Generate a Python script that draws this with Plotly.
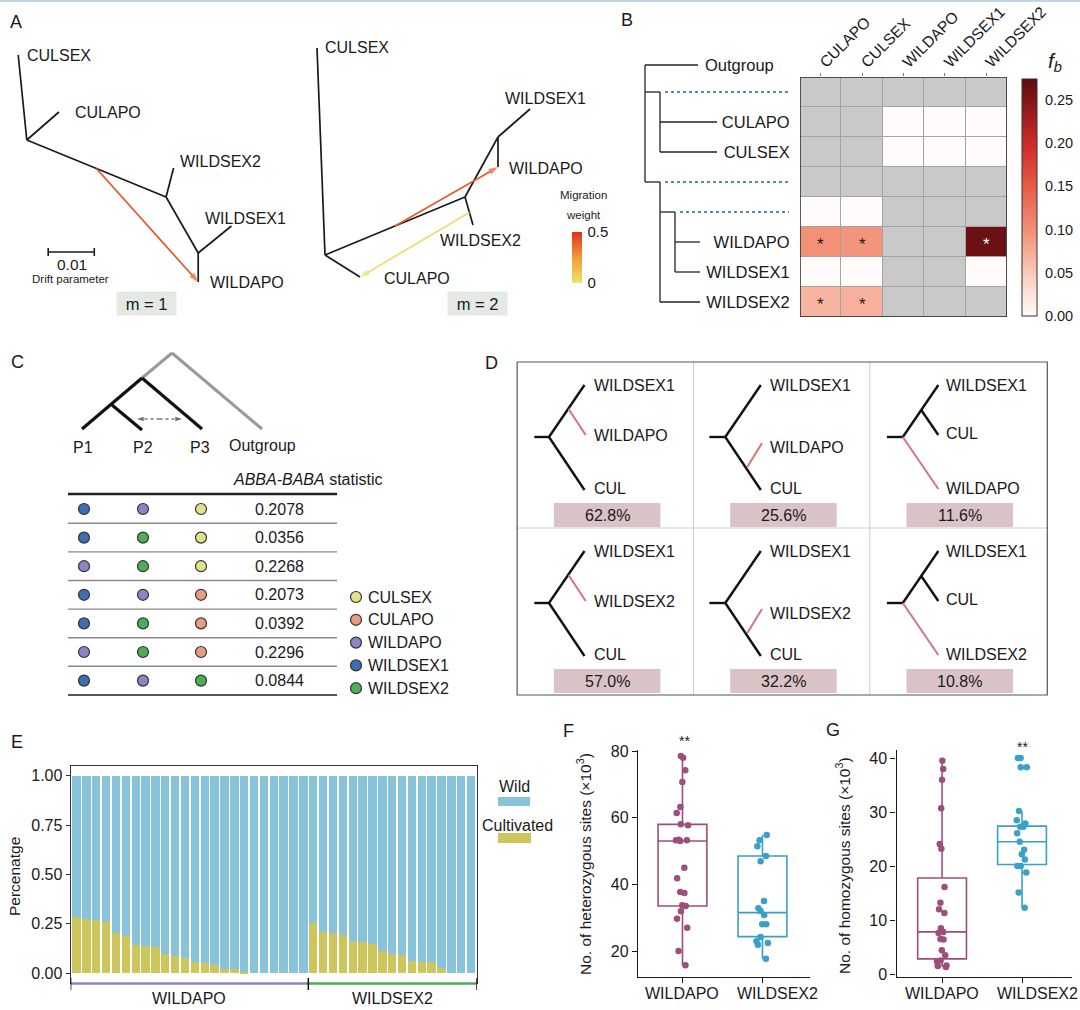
import plotly.graph_objects as go
from plotly.colors import sample_colorscale

W, H = 1080, 1010
FONT = "Liberation Sans, Arial, sans-serif"
INK = "#1a1a1a"

# ======================= DATA =======================
tm_edges = [("root", "CULSEX"), ("root", "CULAPO"), ("root", "n1"),
            ("n1", "WILDSEX2"), ("n1", "n2"), ("n2", "WILDSEX1"), ("n2", "WILDAPO")]
tm1_nodes = {"root": (25, 110), "CULSEX": (17, 25), "CULAPO": (55, 82),
             "n1": (155, 167), "WILDSEX2": (162, 138), "n2": (185, 223),
             "WILDSEX1": (216, 196), "WILDAPO": (185, 252)}
tm1_labels = {"CULSEX": (23, 25), "CULAPO": (68, 82), "WILDSEX2": (166, 131),
              "WILDSEX1": (189, 188), "WILDAPO": (194, 252)}
tm1_migrations = [("root", "n1", 0.5, "WILDAPO", 0.42)]
tm2_nodes = {"root": (25, 225), "CULSEX": (17, 18), "CULAPO": (60, 247),
             "n1": (165, 167), "WILDSEX2": (173, 195), "n2": (198, 107),
             "WILDSEX1": (230, 79), "WILDAPO": (198, 137)}
tm2_labels = {"CULSEX": (23, 17), "WILDSEX1": (203, 68), "WILDAPO": (207, 138),
              "WILDSEX2": (138, 210), "CULAPO": (82, 248)}
tm2_migrations = [("root", "n1", 0.5, "WILDAPO", 0.40),
                  ("n1", "WILDSEX2", 0.55, "CULAPO", 0.02)]
migration_max = 0.5
migration_colorscale = [[0, "#ece46c"], [0.5, "#f39a38"], [1, "#e2301f"]]

fb_cols = ["CULAPO", "CULSEX", "WILDAPO", "WILDSEX1", "WILDSEX2"]
fb_rows = ["", "CULAPO", "CULSEX", "", "", "WILDAPO", "WILDSEX1", "WILDSEX2"]
fb_values = [
    [None, None, None, None, None],
    [None, None, 0, 0, 0],
    [None, None, 0, 0, 0],
    [None, None, None, None, None],
    [0, 0, None, None, None],
    [0.098, 0.094, None, None, 0.264],
    [0, 0, None, None, 0],
    [0.068, 0.071, None, None, None],
]
fb_significant = [(5, 0), (5, 1), (5, 4), (7, 0), (7, 1)]
fb_ticks = [0, 0.05, 0.10, 0.15, 0.20, 0.25]
fb_max = 0.274
fb_colorscale = [[0, "#fffbfa"], [0.15, "#fbd3c6"], [0.35, "#f3937a"], [0.55, "#e65a45"],
                 [0.72, "#cf2c2a"], [0.88, "#8e1a1c"], [1, "#5c0d10"]]
dendro = {"x": 45, "row": -0.9, "children": [
    {"leaf": "Outgroup", "row": -0.9, "end": 98},
    {"x": 60, "row": 0, "children": [
        {"leaf": "CULAPO", "row": 1, "end": 117},
        {"leaf": "CULSEX", "row": 2, "end": 117}]},
    {"x": 60, "row": 3, "children": [
        {"x": 75, "row": 4, "children": [
            {"leaf": "WILDAPO", "row": 5, "end": 100},
            {"leaf": "WILDSEX1", "row": 6, "end": 100}]},
        {"leaf": "WILDSEX2", "row": 7, "end": 100}]}]}

abba_P1 = ["WILDSEX1", "WILDSEX1", "WILDAPO", "WILDSEX1", "WILDSEX1", "WILDAPO", "WILDSEX1"]
abba_P2 = ["WILDAPO", "WILDSEX2", "WILDSEX2", "WILDAPO", "WILDSEX2", "WILDSEX2", "WILDAPO"]
abba_P3 = ["CULSEX", "CULSEX", "CULSEX", "CULAPO", "CULAPO", "CULAPO", "WILDSEX2"]
abba_D = [0.2078, 0.0356, 0.2268, 0.2073, 0.0392, 0.2296, 0.0844]
pop_order = ["CULSEX", "CULAPO", "WILDAPO", "WILDSEX1", "WILDSEX2"]
pop_colors = {"CULSEX": "#e3e08c", "CULAPO": "#e99c82", "WILDAPO": "#8d84c6",
              "WILDSEX1": "#3f6db3", "WILDSEX2": "#4cae57"}

d_rows = ["WILDAPO", "WILDSEX2"]
d_percent = [[62.8, 25.6, 11.6], [57.0, 32.2, 10.8]]

e_group_names = ["WILDAPO", "WILDSEX2"]
e_group_sizes = [24, 17]
e_cultivated = [0.284, 0.272, 0.267, 0.260, 0.205, 0.188, 0.143, 0.138, 0.133, 0.096,
                0.087, 0.079, 0.059, 0.049, 0.042, 0.023, 0.020, 0.005, 0, 0, 0, 0, 0, 0,
                0.255, 0.210, 0.205, 0.193, 0.163, 0.159, 0.149, 0.112, 0.096, 0.091,
                0.062, 0.057, 0.054, 0.025, 0, 0, 0]
e_wild = [round(1 - c, 3) for c in e_cultivated]

box_groups = ["WILDAPO", "WILDSEX2"]
box_colors = {"WILDAPO": "#9d4f7c", "WILDSEX2": "#3aa0c8"}
f_points = {
    "WILDAPO": [78.5, 78.0, 74.2, 70.7, 63.2, 61.4, 58.0, 57.7, 53.4, 53.2, 53.0, 53.2,
                45.0, 41.8, 37.7, 37.4, 33.7, 33.5, 31.9, 29.7, 27.0, 20.0, 15.7],
    "WILDSEX2": [54.8, 53.2, 51.4, 48.5, 46.9, 35.0, 32.8, 32.0, 30.8, 28.0, 28.0, 24.2,
                 22.9, 22.4, 21.9, 17.7]}
f_q1 = [33.5, 24.3]; f_median = [53.0, 31.5]; f_q3 = [58.0, 48.5]
f_low = [15.7, 17.7]; f_high = [78.5, 54.8]
g_points = {
    "WILDAPO": [39.5, 38.0, 36.0, 30.7, 24.1, 23.2, 16.1, 13.2, 12.0, 11.3, 8.5, 7.8,
                7.6, 6.5, 6.4, 4.4, 3.5, 2.5, 2.3, 1.6, 1.5, 1.3],
    "WILDSEX2": [40.0, 40.0, 38.3, 38.3, 30.2, 28.5, 27.9, 27.3, 27.3, 26.1, 24.5, 23.0,
                 22.2, 21.2, 20.0, 20.0, 18.8, 15.1, 12.3]}
g_q1 = [2.8, 20.3]; g_median = [7.8, 24.5]; g_q3 = [17.8, 27.4]
g_low = [1.3, 12.3]; g_high = [39.5, 30.2]

# ======================= FIGURE =======================
fig = go.Figure()
annotations, shapes, axes = [], [], {}


def ax_keys(n):
    s = "" if n == 1 else str(n)
    return "xaxis" + s, "yaxis" + s, "x" + s, "y" + s


def set_axes(n, box, xr, yr, xopts=None, yopts=None):
    x0, y0, x1, y1 = box
    xk, yk, xa, ya = ax_keys(n)
    xd = dict(domain=[x0 / W, x1 / W], anchor=ya, range=xr, fixedrange=True)
    yd = dict(domain=[1 - y1 / H, 1 - y0 / H], anchor=xa, range=yr, fixedrange=True)
    xd.update(xopts or dict(visible=False))
    yd.update(yopts or dict(visible=False))
    axes[xk] = xd
    axes[yk] = yd


def lines(n, segs, color=INK, width=1.6, dash=None):
    xs, ys = [], []
    for (x0, y0), (x1, y1) in segs:
        xs += [x0, x1, None]
        ys += [y0, y1, None]
    _, _, xa, ya = ax_keys(n)
    fig.add_trace(go.Scatter(x=xs, y=ys, mode="lines", xaxis=xa, yaxis=ya,
                             line=dict(color=color, width=width, dash=dash),
                             hoverinfo="skip", showlegend=False))


def arrow(n, src, dst, color, width=1.6, size=10, dash=None):
    _, _, xa, ya = ax_keys(n)
    fig.add_trace(go.Scatter(x=[src[0], dst[0]], y=[src[1], dst[1]], mode="lines+markers",
                             xaxis=xa, yaxis=ya, line=dict(color=color, width=width, dash=dash),
                             marker=dict(symbol=["circle", "arrow"], size=[0, size],
                                         angleref="previous", color=color, line=dict(width=0)),
                             hoverinfo="skip", showlegend=False))


def text(n, x, y, s, size=15, xanchor="left", yanchor="middle", color=INK, **kw):
    if n == 0:
        xref, yref, x, y = "paper", "paper", x / W, 1 - y / H
    else:
        _, _, xref, yref = ax_keys(n)
    annotations.append(dict(x=x, y=y, xref=xref, yref=yref, text=s, showarrow=False,
                            xanchor=xanchor, yanchor=yanchor,
                            font=dict(family=FONT, size=size, color=color), **kw))


def rect_px(x0, y0, x1, y1, **kw):
    shapes.append(dict(type="rect", xref="paper", yref="paper", x0=x0 / W, x1=x1 / W,
                       y0=1 - y1 / H, y1=1 - y0 / H, **kw))


set_axes(1, (0, 30, 300, 320), [0, 280], [290, 0])
set_axes(2, (300, 30, 620, 320), [0, 320], [290, 0])
for n, nodes, labels, migs, mtxt, mpos in [
        (1, tm1_nodes, tm1_labels, tm1_migrations, "m = 1", (137, 273)),
        (2, tm2_nodes, tm2_labels, tm2_migrations, "m = 2", (177, 273))]:
    lines(n, [(nodes[a], nodes[b]) for a, b in tm_edges], INK, 1.7)
    for name, (x, y) in labels.items():
        text(n, x, y, name, 16)
    for a, b, t, tgt, w in migs:
        (p0x, p0y), (p1x, p1y) = nodes[a], nodes[b]
        src = (p0x + t * (p1x - p0x), p0y + t * (p1y - p0y))
        col = sample_colorscale(migration_colorscale, [w / migration_max])[0]
        arrow(n, src, nodes[tgt], col, 1.7, 10)
    text(n, mpos[0], mpos[1], mtxt, 16.5, "center", bgcolor="#e4e9e4", width=57, height=21)
lines(1, [((45, 222), (88, 222)), ((45, 218), (45, 226)), ((88, 218), (88, 226))], INK, 1.6)
text(1, 67, 234, "0.01", 15.5, "center")
text(1, 66, 249, "Drift parameter", 11.5, "center")
fig.add_trace(go.Scatter(x=[-50, -50], y=[-50, -50], xaxis="x2", yaxis="y2", mode="markers",
                         marker=dict(color=[0, migration_max], coloraxis="coloraxis2", size=1),
                         hoverinfo="skip", showlegend=False))
text(0, 583, 195, "Migration", 11.5, "center")
text(0, 583, 215, "weight", 11.5, "center")

set_axes(3, (600, 47, 800, 317), [0, 200], [7.5, -1.5])
dsegs, ddots = [], []


def walk(node):
    if "leaf" in node:
        return
    rows = [c["row"] for c in node["children"]] + [node["row"]]
    dsegs.append(((node["x"], min(rows)), (node["x"], max(rows))))
    for c in node["children"]:
        end = c["end"] if "leaf" in c else c["x"]
        dsegs.append(((node["x"], c["row"]), (end, c["row"])))
        if "leaf" not in c:
            ddots.append(((c["x"] + 5, c["row"]), (189, c["row"])))
            walk(c)


walk(dendro)
lines(3, dsegs, "#222", 1.3)
lines(3, ddots, "#4f93ab", 2.2, "dot")
text(3, 103, -0.9, "Outgroup", 16.5)

row_ticks = [i for i, r in enumerate(fb_rows) if r]
set_axes(4, (800, 77, 1007, 317), [-0.5, 4.5], [7.5, -0.5],
         dict(tickmode="array", tickvals=list(range(len(fb_cols))), ticktext=fb_cols, side="top",
              tickangle=-45, ticks="outside", ticklen=3, tickcolor="#777",
              ticklabelstandoff=-4,
              tickfont=dict(size=15.5, color=INK), showgrid=False, zeroline=False,
              automargin=False),
         dict(tickmode="array", tickvals=row_ticks, ticktext=[fb_rows[i] for i in row_ticks],
              ticks="outside", ticklen=6, tickcolor="rgba(0,0,0,0)",
              tickfont=dict(size=16.5, color=INK), showgrid=False, zeroline=False,
              automargin=False))
na_z = [[1 if v is None else None for v in row] for row in fb_values]
fig.add_trace(go.Heatmap(z=na_z, x=list(range(len(fb_cols))), y=list(range(len(fb_rows))),
                         colorscale=[[0, "#c9c9c9"], [1, "#c9c9c9"]], showscale=False,
                         xgap=1, ygap=1, xaxis="x4", yaxis="y4", hoverinfo="skip"))
fig.add_trace(go.Heatmap(z=fb_values, x=list(range(len(fb_cols))), y=list(range(len(fb_rows))),
                         colorscale=fb_colorscale, zmin=0, zmax=fb_max, xgap=1, ygap=1,
                         xaxis="x4", yaxis="y4", hoverinfo="skip",
                         colorbar=dict(x=1022 / W, xanchor="left", y=1 - 79 / H, yanchor="top",
                                       len=237 / H, lenmode="fraction", thickness=15,
                                       xpad=0, ypad=0, outlinewidth=1, outlinecolor="#333",
                                       tickvals=fb_ticks, ticktext=[f"{t:.2f}" for t in fb_ticks],
                                       ticks="outside", ticklen=5, tickcolor="rgba(0,0,0,0)",
                                       tickfont=dict(size=14.5, color=INK, family=FONT))))
shapes.append(dict(type="rect", xref="x4", yref="y4", x0=-0.5, x1=4.5, y0=-0.5, y1=7.5,
                   fillcolor="#a3a3a3", line=dict(width=0), layer="below"))
shapes.append(dict(type="rect", xref="x4", yref="y4", x0=-0.5, x1=4.5, y0=-0.5, y1=7.5,
                   line=dict(color="#2a2a2a", width=1.5)))
for r, c in fb_significant:
    text(4, c, r, "*", 17, "center", color="white" if fb_values[r][c] > 0.2 else INK, yshift=-3)
text(0, 1055, 62, "<i>f<sub>b</sub></i>", 21, "center")

set_axes(5, (0, 330, 440, 700), [0, 440], [370, 0])
cn = {"root": (172, 23), "out": (262, 99), "a": (142, 48), "b": (112, 75),
      "P1": (82, 99), "P2": (142, 100), "P3": (202, 99)}
lines(5, [(cn["root"], cn["out"]), (cn["root"], cn["a"])], "#9a9a9a", 3)
lines(5, [(cn["a"], cn["P3"]), (cn["a"], cn["P1"]), (cn["b"], cn["P2"])], "#111", 3.2)
arrow(5, (159.5, 89), (137, 89), "#333", 1.2, 7, "dot")
arrow(5, (159.5, 89), (182, 89), "#333", 1.2, 7, "dot")
for lab, x in [("P1", 83), ("P2", 143), ("P3", 200)]:
    text(5, x, 117, lab, 16, "center")
text(5, 262, 115, "Outgroup", 16, "center")
text(5, 308, 149, "<i>ABBA-BABA</i> statistic", 16, "center")
col_x = [84, 143, 201]
row_y = [179 + 28.6 * i for i in range(len(abba_D))]
lines(5, [((68, 164), (337, 164))], "#222", 2.5)
lines(5, [((68, y + 14.3), (337, y + 14.3)) for y in row_y[:-1]], "#8a8a8a", 1.4)
lines(5, [((68, row_y[-1] + 14.3), (337, row_y[-1] + 14.3))], "#555", 2)
mx, my, mc = [], [], []
for i in range(len(abba_D)):
    for j, p in enumerate([abba_P1[i], abba_P2[i], abba_P3[i]]):
        mx.append(col_x[j]); my.append(row_y[i]); mc.append(pop_colors[p])
    text(5, 279, row_y[i], f"{abba_D[i]:.4f}", 16, "center")
leg_y = [267 + 22.8 * k for k in range(len(pop_order))]
for k, p in enumerate(pop_order):
    mx.append(356); my.append(leg_y[k]); mc.append(pop_colors[p])
    text(5, 366, leg_y[k], p, 16)
fig.add_trace(go.Scatter(x=mx, y=my, mode="markers", xaxis="x5", yaxis="y5",
                         marker=dict(color=mc, size=11, line=dict(color="#333", width=1.2)),
                         hoverinfo="skip", showlegend=False))

set_axes(6, (440, 330, 1080, 700), [0, 522.7], [370, 0])
d_templates = [
    dict(black=[((14, 75), (26, 75)), ((26, 75), (55, 23)), ((26, 75), (55, 128))],
         red=((42, 47), (56, 73)), labels=[("WILDSEX1", 23), ("{pop}", 73), ("CUL", 126)]),
    dict(black=[((13, 75), (26, 75)), ((26, 75), (55, 23)), ((26, 75), (55, 128))],
         red=((44, 105), (56, 81)), labels=[("WILDSEX1", 23), ("{pop}", 85), ("CUL", 126)]),
    dict(black=[((14, 75), (27, 75)), ((27, 75), (56, 23)), ((42, 48), (56, 73))],
         red=((27, 75), (56, 127)), labels=[("WILDSEX1", 23), ("CUL", 71), ("{pop}", 126)]),
]
blk, red = [], []
for r, pop in enumerate(d_rows):
    for c, tpl in enumerate(d_templates):
        ox, oy = 63 + 144 * c, 32 + 166 * r
        sh = lambda p: (p[0] + ox, p[1] + oy)
        blk += [(sh(a), sh(b)) for a, b in tpl["black"]]
        red.append((sh(tpl["red"][0]), sh(tpl["red"][1])))
        for lab, ly in tpl["labels"]:
            text(6, ox + 61, oy + ly, lab.format(pop=pop), 16)
        shapes.append(dict(type="rect", xref="x6", yref="y6", x0=ox + 30, x1=ox + 117,
                           y0=oy + 141, y1=oy + 165, fillcolor="#d9c3c7", line=dict(width=0),
                           layer="below"))
        text(6, ox + 73.5, oy + 153, f"{d_percent[r][c]:.1f}%", 16, "center")
lines(6, [((207, 32), (207, 365)), ((351, 32), (351, 365)), ((63, 198), (496, 198))], "#cccccc", 1)
lines(6, blk, "#111", 2.4)
lines(6, red, "#d6737b", 2)
shapes.append(dict(type="rect", xref="x6", yref="y6", x0=63, x1=496, y0=32, y1=365,
                   line=dict(color="#555", width=1.2)))

n_bars = sum(e_group_sizes)
bar_x = list(range(1, n_bars + 1))
set_axes(7, (70.6, 766, 477, 983), [0.4, n_bars + 0.6], [-0.05, 1.05],
         dict(showticklabels=False, ticks="", showgrid=False, zeroline=False, showline=True,
              mirror=True, linecolor="#333", linewidth=1),
         dict(tickmode="array", tickvals=[0, 0.25, 0.5, 0.75, 1],
              ticktext=["0.00", "0.25", "0.50", "0.75", "1.00"], ticks="outside", ticklen=4,
              tickcolor="#333", tickfont=dict(size=16, color=INK), showgrid=False,
              zeroline=False, showline=True, mirror=True, linecolor="#333", linewidth=1))
fig.add_trace(go.Bar(x=bar_x, y=e_cultivated, marker=dict(color="#cdc65c", line=dict(width=0)),
                     xaxis="x7", yaxis="y7", hoverinfo="skip", showlegend=False))
fig.add_trace(go.Bar(x=bar_x, y=e_wild, marker=dict(color="#88c3dc", line=dict(width=0)),
                     xaxis="x7", yaxis="y7", hoverinfo="skip", showlegend=False))
start = 0
bounds = [0.4]
for i, sz in enumerate(e_group_sizes):
    start += sz
    bounds.append(start + 0.5 if i < len(e_group_sizes) - 1 else n_bars + 0.6)
for i, g in enumerate(e_group_names):
    shapes.append(dict(type="line", xref="x7", yref="paper", x0=bounds[i], x1=bounds[i + 1],
                       y0=1 - 983.5 / H, y1=1 - 983.5 / H,
                       line=dict(color=pop_colors[g], width=2.5)))
    annotations.append(dict(x=(bounds[i] + bounds[i + 1]) / 2, y=1 - 998 / H, xref="x7",
                            yref="paper", text=g, showarrow=False, xanchor="center",
                            yanchor="middle", font=dict(family=FONT, size=16, color=INK)))
for b in bounds:
    shapes.append(dict(type="line", xref="x7", yref="paper", x0=b, x1=b,
                       y0=1 - 978 / H, y1=1 - 990 / H, line=dict(color="#111", width=1.5)))
text(0, 14, 877, "Percenatge", 15.5, "center", textangle=-90)
text(0, 514, 786, "Wild", 16, "center")
rect_px(498, 797, 530, 806, fillcolor="#88c3dc", line=dict(width=0))
text(0, 480, 825, "Cultivated", 16)
rect_px(498, 833, 531, 843, fillcolor="#cdc65c", line=dict(width=0))

xcat = dict(type="category", categoryorder="array", categoryarray=box_groups, ticks="outside",
            ticklen=5, tickcolor=INK, showline=True, linecolor=INK, linewidth=1.3,
            showticklabels=False, showgrid=False, zeroline=False)
ybase = dict(ticks="outside", ticklen=5, tickcolor=INK, showline=True, linecolor=INK,
             linewidth=1.3, tickfont=dict(size=16, color=INK), showgrid=False, zeroline=False)
set_axes(8, (638, 750, 810, 977), [-0.556, 1.594], [12.2, 80.3], dict(xcat),
         dict(ybase, tickvals=[20, 40, 60, 80]))
set_axes(9, (896.5, 750, 1072, 977), [-0.57, 1.625], [-0.55, 41.5], dict(xcat),
         dict(ybase, tickvals=[0, 10, 20, 30, 40]))
label_shift = {"WILDAPO": 0, "WILDSEX2": 15}
for n, pts, q1, med, q3, lo, hi in [(8, f_points, f_q1, f_median, f_q3, f_low, f_high),
                                     (9, g_points, g_q1, g_median, g_q3, g_low, g_high)]:
    _, _, xa, ya = ax_keys(n)
    for i, g in enumerate(box_groups):
        col = box_colors[g]
        fig.add_trace(go.Box(x=[g], q1=[q1[i]], median=[med[i]], q3=[q3[i]],
                             lowerfence=[lo[i]], upperfence=[hi[i]], boxpoints=False,
                             width=0.61, whiskerwidth=0, fillcolor="rgba(255,255,255,0)",
                             line=dict(color=col, width=1.6), xaxis=xa, yaxis=ya,
                             hoverinfo="skip", showlegend=False))
        fig.add_trace(go.Box(x=[g] * len(pts[g]), y=pts[g], boxpoints="all", jitter=0.3,
                             pointpos=0, width=0.61, fillcolor="rgba(0,0,0,0)",
                             line=dict(color="rgba(0,0,0,0)", width=0),
                             marker=dict(color=col, size=6.5), xaxis=xa, yaxis=ya,
                             hoverinfo="skip", showlegend=False))
        annotations.append(dict(x=g, y=1 - 993 / H, xref=xa, yref="paper", text=g,
                                showarrow=False, xanchor="center", yanchor="middle",
                                xshift=label_shift[g], font=dict(family=FONT, size=16, color=INK)))
text(0, 584, 864, "No. of heterozygous sites (×10<sup>3</sup>)", 15.5, "center", textangle=-90)
text(0, 843, 866, "No. of homozygous sites (×10<sup>3</sup>)", 15.5, "center", textangle=-90)
text(0, 684, 741, "**", 14, "center")
text(0, 1022, 747, "**", 14, "center")

for lab, x, y in [("A", 8, 22), ("B", 619, 20), ("C", 9, 362), ("D", 483, 363),
                  ("E", 9, 742), ("F", 561, 731), ("G", 824, 730)]:
    text(0, x, y, lab, 18)
shapes.append(dict(type="line", xref="paper", yref="paper", x0=0, x1=1, y0=1 - 1 / H,
                   y1=1 - 1 / H, line=dict(color="#c3d4e4", width=2)))

fig.update_layout(
    width=W, height=H, autosize=False,
    margin=dict(l=0, r=0, t=0, b=0, pad=0, autoexpand=False),
    paper_bgcolor="white", plot_bgcolor="rgba(0,0,0,0)", showlegend=False,
    barmode="stack", bargap=0.15, boxmode="overlay", hovermode=False,
    font=dict(family=FONT, color=INK),
    coloraxis2=dict(colorscale=migration_colorscale, cmin=0, cmax=migration_max,
                    colorbar=dict(x=572 / W, xanchor="left", y=1 - 232 / H, yanchor="top",
                                  len=51 / H, lenmode="fraction", thickness=10, xpad=0, ypad=0,
                                  outlinewidth=0, tickvals=[0, migration_max],
                                  ticktext=["0", "0.5"], ticks="outside", ticklen=3,
                                  tickcolor="rgba(0,0,0,0)",
                                  tickfont=dict(size=15, color=INK, family=FONT))),
    annotations=annotations, shapes=shapes, **axes)

# pin the figure to the top-left corner of the window at its exact size
PIN = ("var d=document.documentElement,b=document.body;"
       "[d,b].forEach(function(e){e.style.margin='0';e.style.padding='0';"
       "e.style.overflow='hidden';});"
       "var gd=document.getElementById('{plot_id}');"
       "gd.style.position='fixed';gd.style.left='0px';gd.style.top='0px';"
       "return Plotly.relayout(gd,{width:1080,height:1010});")
fig.write_html("out.html", config={"displayModeBar": False, "responsive": False},
               post_script=PIN)
